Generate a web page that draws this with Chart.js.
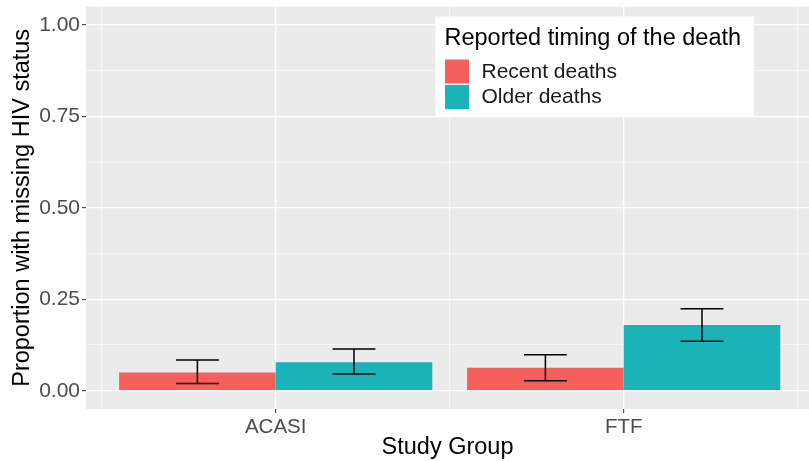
<!DOCTYPE html>
<html>
<head>
<meta charset="utf-8">
<script src="https://cdn.jsdelivr.net/npm/chart.js@4"></script>
<style>
  body { margin: 0; background: #fff; }
  canvas { display: block; }
</style>
</head>
<body>
<canvas id="chart" width="809" height="461"></canvas>
<script>
const categories = ['ACASI', 'FTF'];
const seriesNames = ['Recent deaths', 'Older deaths'];
const recentValues = [0.050, 0.063];
const olderValues = [0.078, 0.180];
const recentLower = [0.020, 0.027];
const recentUpper = [0.084, 0.098];
const olderLower = [0.046, 0.135];
const olderUpper = [0.114, 0.224];
const yTicks = [0, 0.125, 0.25, 0.375, 0.5, 0.625, 0.75, 0.875, 1];
const xTicks = [0.5, 1, 1.5, 2, 2.5];

const FONT = "'Liberation Sans', Arial, sans-serif";
const isMajorY = v => Math.abs(v * 4 - Math.round(v * 4)) < 1e-9;
const isMajorX = v => Number.isInteger(v);

const panelBg = {
    id: 'panelBg',
    beforeDraw(chart) {
        const { ctx, chartArea: a } = chart;
        ctx.save();
        ctx.fillStyle = '#EBEBEB';
        ctx.fillRect(a.left, a.top, a.right - a.left, a.bottom - a.top);
        ctx.restore();
    }
};

const errorBars = {
    id: 'errorBars',
    afterDatasetsDraw(chart) {
        const { ctx } = chart;
        const y = chart.scales.y;
        ctx.save();
        ctx.strokeStyle = '#000';
        ctx.lineWidth = 1.5;
        chart.data.datasets.forEach((ds, di) => {
            chart.getDatasetMeta(di).data.forEach((bar, i) => {
                const lo = y.getPixelForValue(ds.lower[i]);
                const hi = y.getPixelForValue(ds.upper[i]);
                const half = bar.width * 0.137;
                ctx.beginPath();
                ctx.moveTo(bar.x, lo); ctx.lineTo(bar.x, hi);
                ctx.moveTo(bar.x - half, lo); ctx.lineTo(bar.x + half, lo);
                ctx.moveTo(bar.x - half, hi); ctx.lineTo(bar.x + half, hi);
                ctx.stroke();
            });
        });
        ctx.restore();
    }
};

const legendBox = {
    id: 'legendBox',
    afterDraw(chart) {
        const { ctx } = chart;
        const x = 435.5, top = 16.5, w = 318.5, h = 100;
        ctx.save();
        ctx.fillStyle = '#fff';
        ctx.fillRect(x, top, w, h);
        ctx.fillStyle = '#000';
        ctx.textBaseline = 'alphabetic';
        ctx.font = '23.5px ' + FONT;
        ctx.fillText('Reported timing of the death', 444.5, 45);
        ctx.font = '21px ' + FONT;
        ctx.textBaseline = 'middle';
        chart.data.datasets.forEach((ds, i) => {
            const ky = 59.5 + i * 25.5;
            ctx.fillStyle = ds.backgroundColor;
            ctx.fillRect(445, ky, 24, 24);
            ctx.fillStyle = '#1a1a1a';
            ctx.fillText(ds.label, 481.5, ky + 12.5);
        });
        ctx.restore();
    }
};

const toPoints = vals => vals.map((v, i) => ({ x: i + 1, y: v }));

new Chart(document.getElementById('chart'), {
    type: 'bar',
    data: {
        datasets: [
            {
                label: seriesNames[0],
                data: toPoints(recentValues),
                lower: recentLower,
                upper: recentUpper,
                backgroundColor: '#F5605C'
            },
            {
                label: seriesNames[1],
                data: toPoints(olderValues),
                lower: olderLower,
                upper: olderUpper,
                backgroundColor: '#19B3B8'
            }
        ]
    },
    options: {
        responsive: false,
        animation: false,
        devicePixelRatio: 1,
        barPercentage: 1,
        // tick spacing is half a category, so 1.8 of it = 0.9 of a category
        categoryPercentage: 1.8,
        layout: { padding: { top: 6.7, right: 0, left: 0, bottom: 0 } },
        plugins: {
            legend: { display: false },
            tooltip: { enabled: false }
        },
        scales: {
            x: {
                type: 'linear',
                min: 0.4549,
                max: 2.5325,
                offset: false,
                border: { display: false },
                grid: {
                    offset: false,
                    color: '#FFFFFF',
                    lineWidth: c => isMajorX(c.tick.value) ? 1.3 : 0.6,
                    tickColor: c => isMajorX(c.tick.value) ? '#333333' : 'rgba(0,0,0,0)',
                    tickLength: 4,
                    tickWidth: 1
                },
                afterBuildTicks: s => { s.ticks = xTicks.map(v => ({ value: v })); },
                afterFit: s => { s.height = 52; s.paddingLeft = 0; s.paddingRight = 0; },
                ticks: {
                    autoSkip: false,
                    maxRotation: 0,
                    padding: 2,
                    color: '#4D4D4D',
                    font: { family: FONT, size: 20.5 },
                    callback: v => isMajorX(v) ? categories[v - 1] : ''
                },
                title: {
                    display: true,
                    text: 'Study Group',
                    color: '#000',
                    font: { family: FONT, size: 23.5 },
                    padding: { top: 0, bottom: -1 }
                }
            },
            y: {
                min: -0.05,
                max: 1.05,
                border: { display: false },
                grid: {
                    color: '#FFFFFF',
                    lineWidth: c => isMajorY(c.tick.value) ? 1.3 : 0.6,
                    tickColor: c => isMajorY(c.tick.value) ? '#333333' : 'rgba(0,0,0,0)',
                    tickLength: 4,
                    tickWidth: 1
                },
                afterBuildTicks: s => { s.ticks = yTicks.map(v => ({ value: v })); },
                afterFit: s => { s.width = 86; s.paddingTop = 0; s.paddingBottom = 0; },
                ticks: {
                    autoSkip: false,
                    padding: 2,
                    color: '#4D4D4D',
                    font: { family: FONT, size: 21 },
                    callback: v => isMajorY(v) ? v.toFixed(2) : ''
                },
                title: {
                    display: true,
                    text: 'Proportion with missing HIV status',
                    color: '#000',
                    font: { family: FONT, size: 23.5 },
                    padding: { top: 8, bottom: 0 }
                }
            }
        }
    },
    plugins: [panelBg, errorBars, legendBox]
});
</script>
</body>
</html>
